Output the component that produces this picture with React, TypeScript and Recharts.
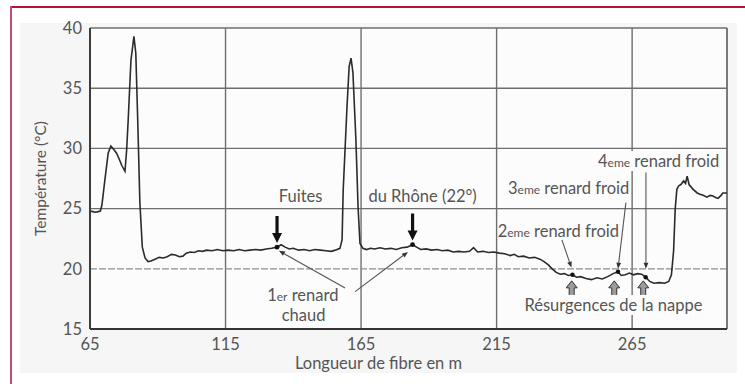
import {
  CartesianGrid,
  Line,
  LineChart,
  ReferenceDot,
  ReferenceLine,
  XAxis,
  YAxis,
} from "recharts";

// distance along the fibre (m) and measured temperature (°C)
const distance = [
  65, 66, 67, 68, 68.8, 69.4, 70.5, 71.7, 72.7, 73.8, 74.8, 75.8, 76.7, 77.9,
  78.5, 79.1, 80.1, 81.2, 81.9, 82.6, 83.4, 84.3, 85.3, 86.4, 87.5, 89, 90.5,
  92, 93.5, 95, 96.5, 98, 99.3, 100.5, 102, 103.5, 105, 106.5, 108, 110, 112,
  114, 116, 118, 120, 122, 124, 126, 128, 130, 132, 134, 135.5, 137, 138.5,
  140, 142, 144, 146, 148, 150, 152, 154, 155.5, 157.2, 158, 158.4, 159.8,
  160.6, 161.3, 162, 163.1, 163.9, 164.6, 165.7, 167, 168.5, 170, 172, 174,
  176, 178, 180, 182, 184, 185.5, 187, 189, 191, 193, 195, 197, 199, 201, 203,
  205, 206.5, 208, 210, 212, 214, 216, 218, 220, 221.5, 223, 225, 227, 229,
  231, 232.5, 234, 235.5, 237, 238.5, 240, 241.5, 243, 244.5, 246, 248, 250,
  252, 254, 256, 258, 259.8, 261, 262.5, 264, 265.5, 267, 268.5, 270, 271.5,
  273, 275, 277, 278.5, 279.5, 280.3, 280.9, 281.5, 282.2, 283, 284, 284.7,
  285.3, 286, 287.5, 289, 290, 291.2, 292.6, 293.8, 294.8, 296, 296.7, 297.8,
  298.5, 300,
];
const temperature = [
  24.8, 24.75, 24.7, 24.75, 24.8, 25.3, 27.4, 29.6, 30.2, 29.9, 29.6, 29.1,
  28.6, 28.1, 29.8, 32.4, 37.3, 39.3, 37.9, 32.4, 25.5, 21.8, 20.9, 20.6,
  20.65, 20.8, 20.95, 20.9, 21.0, 21.2, 21.15, 21.0, 21.05, 21.3, 21.4, 21.35,
  21.5, 21.45, 21.55, 21.5, 21.6, 21.5, 21.55, 21.5, 21.6, 21.5, 21.55, 21.6,
  21.55, 21.65, 21.7, 21.8, 22.0, 21.8, 21.65, 21.7, 21.55, 21.6, 21.5, 21.6,
  21.55, 21.5, 21.45, 21.55, 21.7, 22.4, 26.5, 33.4, 36.8, 37.5, 36.3, 30.7,
  25.1, 22.1, 21.7, 21.6, 21.7, 21.65, 21.75, 21.65, 21.7, 21.6, 21.75, 21.8,
  22.0, 21.8, 21.6, 21.65, 21.55, 21.6, 21.5, 21.55, 21.4, 21.45, 21.4, 21.45,
  21.75, 21.4, 21.45, 21.35, 21.4, 21.3, 21.25, 21.1, 21.2, 21.0, 21.05, 20.9,
  20.95, 20.8, 20.6, 20.35, 20.0, 19.7, 19.55, 19.6, 19.45, 19.5, 19.3, 19.35,
  19.2, 19.1, 19.25, 19.15, 19.35, 19.6, 19.75, 19.45, 19.5, 19.65, 19.5,
  19.6, 19.55, 19.3, 18.95, 18.8, 18.85, 18.8, 18.95, 19.5, 21.5, 25.0, 26.6,
  26.9, 27.0, 27.3, 27.1, 27.7, 27.0, 26.6, 26.3, 26.2, 26.1, 25.95, 26.1,
  26.05, 25.9, 25.85, 26.1, 26.3, 26.3,
];

const xTicks = [65, 115, 165, 215, 265];
const yTicks = [15, 20, 25, 30, 35, 40];

// hot leaks (Rhône water) and cold spots (groundwater resurgence)
const hotSpots = [134, 184];
const coldSpots = [243, 259.8, 270];
const resurgenceArrows = [242.7, 258.4, 269.1];

const profile = distance.map((d, i) => ({ d, t: temperature[i] }));
const tempAt = (d: number) => temperature[distance.indexOf(d)];

const FONT = "Lato, 'Open Sans', sans-serif";
const TEXT = "#555";
const GRID = "#6e6e6e";
const PLOT_BG = "#fcfcfc";
const NOTE_SIZE = 16.5;

function DownArrow({ cx, cy }: any) {
  return (
    <polygon
      points={`${cx},${cy} ${cx - 5},${cy - 10} ${cx - 1.6},${cy - 10} ${cx - 1.6},${cy - 27} ${cx + 1.6},${cy - 27} ${cx + 1.6},${cy - 10} ${cx + 5},${cy - 10}`}
      fill="#111"
    />
  );
}

function UpArrow({ cx, cy }: any) {
  return (
    <polygon
      points={`${cx},${cy} ${cx + 5.5},${cy + 7} ${cx + 2.5},${cy + 7} ${cx + 2.5},${cy + 15} ${cx - 2.5},${cy + 15} ${cx - 2.5},${cy + 7} ${cx - 5.5},${cy + 7}`}
      fill="#9c9c9c"
      stroke="#333"
      strokeWidth={1}
    />
  );
}

function Pointer({ x1, y1, x2, y2 }: any) {
  const a = Math.atan2(y2 - y1, x2 - x1);
  const len = 6;
  const half = 2.4;
  const bx = x2 - len * Math.cos(a);
  const by = y2 - len * Math.sin(a);
  const nx = -Math.sin(a) * half;
  const ny = Math.cos(a) * half;
  return (
    <g>
      <line x1={x1} y1={y1} x2={bx} y2={by} stroke="#555" strokeWidth={1.1} />
      <polygon
        points={`${x2},${y2} ${bx + nx},${by + ny} ${bx - nx},${by - ny}`}
        fill="#333"
      />
    </g>
  );
}

type NoteProps = {
  cx?: number;
  cy?: number;
  anchor?: "start" | "middle" | "end";
  bgWidth?: number;
  children: React.ReactNode;
};

function Note({ cx = 0, cy = 0, anchor = "middle", bgWidth, children }: NoteProps) {
  const left =
    anchor === "middle" ? cx - (bgWidth ?? 0) / 2 : anchor === "end" ? cx - (bgWidth ?? 0) : cx;
  return (
    <g>
      {bgWidth ? (
        <rect x={left - 2} y={cy - 10} width={bgWidth + 4} height={20} fill={PLOT_BG} />
      ) : null}
      <text
        x={cx}
        y={cy}
        dy="0.35em"
        textAnchor={anchor}
        fill={TEXT}
        fontSize={NOTE_SIZE}
        fontFamily={FONT}
      >
        {children}
      </text>
    </g>
  );
}

const sup = (s: string) => <tspan fontSize={12}>{s}</tspan>;

export default function App() {
  return (
    <div
      style={{
        position: "fixed",
        left: 0,
        top: 0,
        width: 745,
        height: 384,
        background: "#fff",
        overflow: "hidden",
      }}
    >
      <div
        style={{
          position: "absolute",
          left: 20,
          top: 23,
          width: 717,
          height: 350,
          background: "#f6f6f6",
        }}
      />
      <div
        style={{
          position: "absolute",
          left: 11,
          top: 6,
          width: 734,
          height: 1.5,
          background: "#b3123e",
        }}
      />
      <div
        style={{
          position: "absolute",
          left: 10,
          top: 6,
          width: 2,
          height: 378,
          background: "#c04a70",
        }}
      />
      <div style={{ position: "absolute", left: 0, top: 0 }}>
        <LineChart
          width={745}
          height={384}
          data={profile}
          margin={{ top: 28, right: 18, bottom: 0, left: 0 }}
        >
          <CartesianGrid
            horizontal={false}
            stroke={GRID}
            strokeWidth={1.4}
            fill={PLOT_BG}
          />
          {yTicks
            .filter((v) => v > 15)
            .map((v) => (
              <ReferenceLine
                key={v}
                y={v}
                stroke={v === 20 ? "#8c8c8c" : GRID}
                strokeWidth={v === 20 ? 1.2 : 1.4}
                strokeDasharray={v === 20 ? "7 2" : undefined}
              />
            ))}
          <ReferenceLine x={300} stroke={GRID} strokeWidth={1.4} />
          <XAxis
            dataKey="d"
            type="number"
            domain={[65, 300]}
            ticks={xTicks}
            height={55}
            axisLine={{ stroke: "#333", strokeWidth: 1.8 }}
            tickLine={false}
            tickMargin={3}
            tick={{ fill: TEXT, fontSize: 16.5, fontFamily: FONT }}
            label={{
              content: ({ viewBox }: any) => (
                <text
                  x={viewBox.x + viewBox.width / 2 - 30}
                  y={viewBox.y + 40}
                  textAnchor="middle"
                  fill={TEXT}
                  fontSize={16.5}
                  fontFamily={FONT}
                >
                  Longueur de fibre en m
                </text>
              ),
            }}
          />
          <YAxis
            type="number"
            domain={[15, 40]}
            ticks={yTicks}
            width={90}
            axisLine={{ stroke: "#333", strokeWidth: 1.8 }}
            tickLine={false}
            tick={{ fill: TEXT, fontSize: 16.5, fontFamily: FONT }}
            label={{
              content: ({ viewBox }: any) => {
                const x = viewBox.x + 41;
                const y = viewBox.y + viewBox.height / 2;
                return (
                  <text
                    x={x}
                    y={y}
                    dy="0.35em"
                    transform={`rotate(-90 ${x} ${y})`}
                    textAnchor="middle"
                    fill={TEXT}
                    fontSize={15.5}
                    fontFamily={FONT}
                  >
                    Température (°C)
                  </text>
                );
              },
            }}
          />
          <Line
            dataKey="t"
            type="linear"
            stroke="#2b2b2b"
            strokeWidth={1.6}
            dot={false}
            isAnimationActive={false}
          />

          {/* hot leaks */}
          {hotSpots.map((d) => (
            <ReferenceDot
              key={`hd${d}`}
              x={d}
              y={tempAt(d)}
              r={2.4}
              fill="#111"
              stroke="none"
            />
          ))}
          {hotSpots.map((d) => (
            <ReferenceDot
              key={`ha${d}`}
              x={d}
              y={tempAt(d) + 0.35}
              r={0}
              shape={(p: any) => <DownArrow cx={p.cx} cy={p.cy} />}
            />
          ))}
          <ReferenceDot
            x={142.7}
            y={26}
            r={0}
            shape={(p: any) => <Note cx={p.cx} cy={p.cy}>Fuites</Note>}
          />
          <ReferenceDot
            x={187.7}
            y={26}
            r={0}
            shape={(p: any) => <Note cx={p.cx} cy={p.cy}>du Rhône (22°)</Note>}
          />
          <ReferenceLine
            segment={[
              { x: 159.1, y: 18.4 },
              { x: 134.7, y: 21.5 },
            ]}
            shape={(p: any) => <Pointer {...p} />}
          />
          <ReferenceLine
            segment={[
              { x: 162.8, y: 18.1 },
              { x: 182.3, y: 21.4 },
            ]}
            shape={(p: any) => <Pointer {...p} />}
          />
          <ReferenceDot
            x={143.5}
            y={17.82}
            r={0}
            shape={(p: any) => (
              <Note cx={p.cx} cy={p.cy}>
                1{sup("er")} renard
              </Note>
            )}
          />
          <ReferenceDot
            x={143.8}
            y={16.16}
            r={0}
            shape={(p: any) => <Note cx={p.cx} cy={p.cy}>chaud</Note>}
          />

          {/* cold spots */}
          <ReferenceLine
            segment={[
              { x: 239.1, y: 22.4 },
              { x: 242.6, y: 20.1 },
            ]}
            shape={(p: any) => <Pointer {...p} />}
          />
          <ReferenceLine
            segment={[
              { x: 262.7, y: 25.5 },
              { x: 259.8, y: 20.0 },
            ]}
            shape={(p: any) => <Pointer {...p} />}
          />
          <ReferenceLine
            segment={[
              { x: 270.1, y: 28.0 },
              { x: 270.1, y: 20.0 },
            ]}
            shape={(p: any) => <Pointer {...p} />}
          />
          {coldSpots.map((d) => (
            <ReferenceDot
              key={`cd${d}`}
              x={d}
              y={tempAt(d)}
              r={2.2}
              fill="#111"
              stroke="none"
            />
          ))}
          {resurgenceArrows.map((d) => (
            <ReferenceDot
              key={`ua${d}`}
              x={d}
              y={19.0}
              r={0}
              shape={(p: any) => <UpArrow cx={p.cx} cy={p.cy} />}
            />
          ))}
          <ReferenceDot
            x={215.4}
            y={23.14}
            r={0}
            shape={(p: any) => (
              <Note cx={p.cx} cy={p.cy} anchor="start">
                2{sup("eme")} renard froid
              </Note>
            )}
          />
          <ReferenceDot
            x={219.2}
            y={26.71}
            r={0}
            shape={(p: any) => (
              <Note cx={p.cx} cy={p.cy} anchor="start">
                3{sup("eme")} renard froid
              </Note>
            )}
          />
          <ReferenceDot
            x={252.4}
            y={28.95}
            r={0}
            shape={(p: any) => (
              <Note cx={p.cx} cy={p.cy} anchor="start" bgWidth={120}>
                4{sup("eme")} renard froid
              </Note>
            )}
          />
          <ReferenceDot
            x={258.1}
            y={17.0}
            r={0}
            shape={(p: any) => (
              <Note cx={p.cx} cy={p.cy} bgWidth={178}>
                Résurgences de la nappe
              </Note>
            )}
          />
        </LineChart>
      </div>
    </div>
  );
}
